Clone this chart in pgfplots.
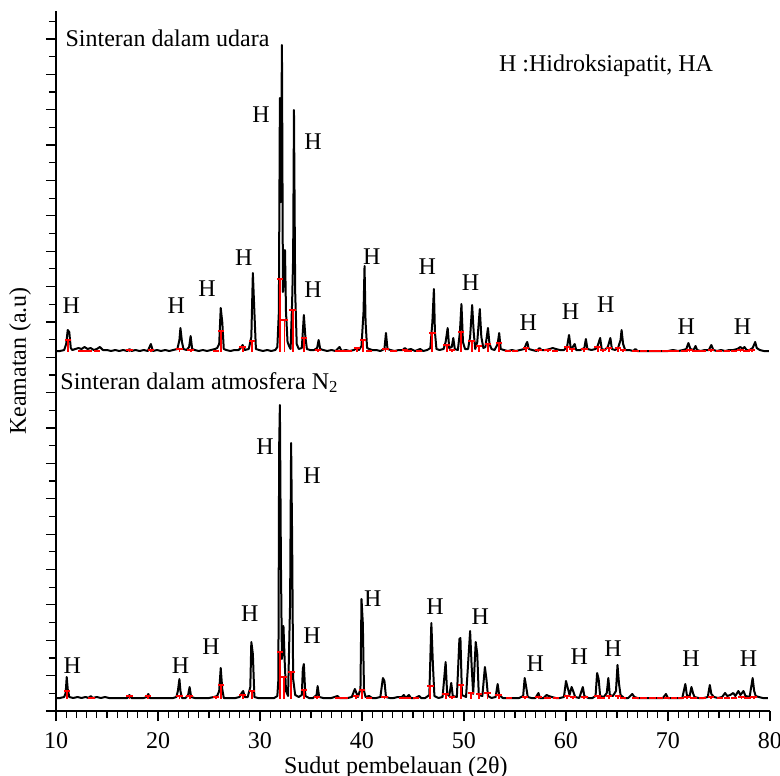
\documentclass[border=0pt]{standalone}
\usepackage{fontspec}
\setmainfont{Liberation Serif}
\usepackage{pgfplots}
\usepackage{pgfplotstable}
\pgfplotsset{compat=1.18}

% top pattern (sintered in air): x = 2theta, h = height above its baseline
\pgfplotstableread{
x h
10.0 1
10.4 1
10.8 2
11.0 8
11.15 22
11.3 20
11.45 4
11.6 2
11.9 3
12.2 4
12.5 3
12.8 5
13.1 3
13.4 4
13.7 2
14.0 3
14.3 5
14.6 2
15.0 2
15.4 1
15.8 2
16.2 1
16.6 2
17.0 1
17.2 3
17.4 1
17.8 2
18.2 1
18.6 2
19.0 1
19.3 8
19.5 1
19.9 2
20.3 1
20.7 2
21.1 1
21.5 2
21.9 3
22.1 12
22.2 24
22.35 10
22.5 3
22.8 2
23.05 5
23.2 16
23.35 3
23.6 2
24.0 1
24.4 2
24.8 1
25.2 2
25.6 3
25.8 4
26.0 8
26.15 44
26.3 30
26.45 3
26.7 2
27.1 1
27.5 2
27.9 2
28.1 4
28.3 7
28.5 2
28.9 3
29.15 15
29.3 79
29.45 40
29.6 3
29.9 2
30.3 1
30.7 2
31.1 1
31.5 2
31.7 5
31.85 40
31.95 254
32.05 150
32.15 307
32.25 60
32.35 75
32.45 102
32.55 40
32.7 10
32.85 6
33.0 3
33.15 50
33.25 95
33.33 242
33.45 60
33.6 8
33.8 3
34.1 4
34.3 37
34.45 15
34.6 3
34.9 2
35.3 2
35.6 4
35.75 12
35.9 3
36.2 2
36.6 1
37.0 2
37.4 1
37.8 5
38.0 1
38.4 2
38.8 1
39.2 2
39.5 4
39.7 2
39.95 6
40.15 40
40.25 86
40.35 30
40.5 4
40.7 3
41.0 2
41.4 2
41.8 1
42.2 3
42.35 19
42.5 3
42.8 2
43.2 1
43.6 2
44.0 2
44.2 4
44.4 2
44.8 3
45.2 1
45.7 3
46.0 1
46.4 2
46.7 4
46.9 30
47.05 63
47.15 20
47.3 3
47.6 2
48.0 3
48.2 10
48.4 24
48.55 4
48.8 5
48.95 14
49.1 3
49.4 2
49.6 20
49.75 48
49.9 10
50.1 3
50.4 3
50.6 15
50.8 47
50.95 20
51.1 3
51.3 10
51.55 43
51.7 15
51.9 4
52.1 5
52.35 24
52.5 8
52.7 3
53.0 2
53.3 8
53.45 19
53.6 3
53.9 2
54.3 1
54.7 2
55.1 1
55.5 2
55.9 3
56.1 8
56.2 10
56.35 3
56.7 2
57.1 1
57.4 4
57.6 2
58.0 2
58.4 3
58.7 4
59.0 3
59.4 2
59.8 2
60.1 5
60.3 17
60.45 5
60.6 4
60.85 8
61.0 2
61.4 2
61.8 4
61.95 13
62.1 3
62.5 2
62.9 3
63.1 6
63.35 14
63.5 3
63.8 2
64.1 5
64.35 14
64.5 3
64.8 2
65.1 4
65.35 12
65.45 22
65.6 8
65.8 2
66.2 2
66.6 1
66.8 3
67.0 1
67.5 1
68.0 1
68.5 1
69.0 1
69.5 1
70.0 1
70.5 2
71.0 1
71.5 2
71.8 3
72.0 9
72.2 3
72.5 2
72.7 6
72.85 2
73.2 1
73.6 2
74.0 2
74.25 7
74.45 2
74.8 1
75.2 2
75.6 1
76.0 2
76.4 2
76.8 3
77.1 5
77.3 3
77.5 5
77.7 2
78.0 2
78.3 4
78.55 10
78.7 4
79.0 2
79.4 1
79.9 1
}\topTrace

% bottom pattern (sintered in N2)
\pgfplotstableread{
x h
10.0 1
10.4 1
10.8 2
10.95 6
11.05 22
11.15 10
11.3 2
11.7 1
12.1 2
12.5 1
12.9 2
13.2 1
13.4 3
13.6 1
14.0 2
14.4 1
14.8 2
15.2 1
15.6 1
16.0 1
16.5 1
17.0 1
17.2 4
17.4 1
17.8 1
18.2 1
18.6 1
18.9 2
19.05 5
19.2 1
19.6 1
20.0 1
20.5 1
21.0 1
21.5 1
21.8 2
21.95 8
22.1 20
22.2 8
22.35 1
22.7 1
22.95 4
23.1 12
23.25 2
23.6 1
24.0 1
24.5 1
25.0 1
25.5 2
25.8 3
26.0 8
26.15 31
26.3 10
26.45 1
26.8 1
27.2 1
27.6 1
28.0 2
28.2 6
28.35 8
28.5 2
28.8 2
29.05 12
29.15 57
29.3 45
29.45 2
29.8 1
30.2 1
30.6 1
31.0 1
31.4 1
31.7 3
31.8 19
31.88 253
31.95 294
32.05 138
32.15 40
32.3 73
32.42 38
32.55 8
32.75 3
32.95 95
33.05 256
33.15 161
33.25 20
33.45 4
33.8 2
34.1 4
34.2 30
34.3 35
34.45 3
34.8 1
35.2 1
35.55 4
35.65 13
35.8 2
36.2 1
36.6 1
37.0 1
37.6 3
37.8 1
38.2 1
38.6 1
39.0 2
39.3 10
39.45 6
39.6 2
39.85 10
39.95 100
40.08 76
40.2 8
40.35 2
40.7 3
41.0 1
41.4 1
41.8 2
42.05 21
42.2 18
42.35 2
42.7 1
43.1 1
43.5 2
43.9 2
44.1 4
44.3 1
44.6 4
44.8 1
45.2 1
45.6 3
45.8 1
46.2 1
46.6 4
46.8 76
46.95 35
47.1 3
47.5 1
47.9 2
48.2 37
48.35 5
48.55 3
48.75 16
48.9 3
49.3 2
49.55 60
49.65 61
49.8 4
50.2 2
50.6 68
50.75 33
50.9 5
51.15 57
51.3 45
51.45 4
51.8 3
52.05 32
52.2 20
52.35 3
52.7 1
53.1 2
53.3 15
53.45 4
53.8 1
54.2 1
54.6 1
55.0 1
55.4 1
55.8 3
55.95 21
56.1 12
56.25 2
56.6 1
57.0 1
57.3 6
57.45 1
57.8 1
58.1 4
58.3 3
58.6 2
59.0 1
59.4 1
59.8 2
60.0 18
60.15 12
60.35 4
60.55 12
60.7 8
60.9 2
61.3 1
61.65 12
61.8 3
62.2 1
62.6 1
62.9 3
63.05 26
63.2 20
63.35 3
63.7 2
64.0 6
64.15 21
64.3 4
64.6 3
64.9 8
65.05 34
65.2 15
65.35 4
65.7 1
66.1 1
66.5 5
66.7 2
67.0 1
67.5 1
68.0 1
68.5 1
69.0 1
69.5 1
69.8 5
70.0 1
70.5 1
71.0 1
71.4 1
71.7 15
71.85 4
72.1 2
72.3 12
72.45 6
72.6 2
73.0 1
73.5 1
73.9 2
74.1 14
74.25 5
74.5 2
74.9 1
75.3 2
75.6 6
75.8 3
76.1 4
76.4 6
76.6 3
76.9 8
77.1 4
77.4 8
77.6 3
78.0 2
78.3 21
78.45 8
78.6 3
78.9 2
79.3 1
79.8 1
}\botTrace

% reference stick pattern (red), heights above each baseline
\pgfplotstableread{
x h
11.15 12
12.5 1
13.2 1
14.0 1
17.2 2
19.3 2
22.1 3
23.2 2
25.7 1
26.15 21
28.3 5
29.2 11
31.95 73
32.4 32
33.2 42
34.3 14
35.7 2
37.7 1
38.3 1
38.7 1
39.5 4
40.1 12
40.7 1
42.3 3
43.1 1
44.2 2
44.6 1
45.6 1
46.9 19
48.3 7
48.8 2
49.7 20
50.75 11
51.5 6
52.35 8
53.45 9
54.3 1
55.0 1
56.1 4
57.3 2
58.2 2
58.9 1
60.1 5
60.6 3
61.8 3
63.1 5
63.6 2
64.2 4
65.1 4
65.6 2
66.8 1
67.6 1
68.5 1
69.0 1
69.7 1
70.2 1
70.8 1
71.6 1
72.1 2
72.7 1
73.4 1
74.2 2
75.0 1
75.8 1
76.5 1
77.1 2
77.7 1
78.2 2
}\topSticks

\pgfplotstableread{
x h
11.05 8
13.5 1
17.2 3
19.0 3
22.1 3
23.1 3
25.7 2
26.2 14
28.3 4
29.2 8
31.95 47
32.35 22
33.07 27
34.3 9
35.6 2
37.7 1
38.3 1
39.4 3
40.0 9
40.7 1
42.2 2
43.9 1
44.5 1
45.3 1
46.7 13
48.2 5
48.8 2
49.7 14
50.7 6
51.5 5
52.3 6
53.4 4
54.4 1
56.0 2
57.3 2
58.2 1
59.0 1
60.1 3
60.7 2
61.8 2
63.1 3
63.5 1
64.2 3
65.1 3
65.6 1
66.8 1
67.6 1
68.5 1
69.2 1
69.9 1
70.6 1
71.3 1
71.9 2
72.5 1
73.4 1
74.2 2
75.1 1
75.8 1
76.5 1
77.2 2
77.8 1
78.4 2
}\botSticks

\newcommand{\hf}{\fontsize{12bp}{14bp}\selectfont}
\newcommand{\tf}{\fontsize{12bp}{14bp}\selectfont}
\newcommand{\lf}{\fontsize{12bp}{14bp}\selectfont}

\begin{document}
\begin{tikzpicture}
\useasboundingbox (0bp,0bp) rectangle (390bp,388bp);
\begin{axis}[
  at={(28bp,32.5bp)}, anchor=south west,
  scale only axis, width=357bp, height=350bp,
  xmin=10, xmax=80, ymin=0, ymax=700,
  axis lines=left,
  axis line style={-, line width=1bp},
  xtick={10,20,...,80}, minor x tick num=9,
  ytick={0,35.37,...,672.2}, minor ytick={17.685,53.055,...,690},
  yticklabels={},
  tick align=outside, major tick length=5bp, minor tick length=3.5bp,
  tick style={black, line width=0.6bp},
  xticklabel style={font=\tf, yshift=-2bp},
  /pgf/number format/assume math mode=true,
  xlabel={Sudut pembelauan (2θ)},
  xlabel style={at={(axis description cs:0.476,0)}, anchor=center, yshift=-28.5bp, font=\lf},
  ylabel={Keamatan (a.u)},
  ylabel style={at={(axis description cs:-0.0504,0.5)}, anchor=center, font=\lf},
  clip=false,
]
% black diffraction traces
\addplot[black, line width=1bp, line join=round] table[x=x, y expr=\thisrow{h}+359] {\topTrace};
\addplot[black, line width=1bp, line join=round] table[x=x, y expr=\thisrow{h}+12] {\botTrace};
% red reference sticks
\addplot[red, only marks, mark=-, mark size=1.6bp, mark options={line width=0.9bp},
  error bars/.cd, y dir=minus, y explicit, error mark=none,
  error bar style={red, line width=0.9bp}]
  table[x=x, y expr=\thisrow{h}+359, y error expr=\thisrow{h}] {\topSticks};
\addplot[red, only marks, mark=-, mark size=1.6bp, mark options={line width=0.9bp},
  error bars/.cd, y dir=minus, y explicit, error mark=none,
  error bar style={red, line width=0.9bp}]
  table[x=x, y expr=\thisrow{h}+12, y error expr=\thisrow{h}] {\botSticks};

% titles
\node[anchor=base west, font=\lf, inner sep=0] at (axis cs:10.9,665) {Sinteran dalam udara};
\node[anchor=base west, font=\lf, inner sep=0] at (axis cs:53.4,640) {H :Hidroksiapatit, HA};
\node[anchor=base west, font=\lf, inner sep=0] at (axis cs:10.4,322) {Sinteran dalam atmosfera N\textsubscript{2}};

% peak labels, top
\node[font=\hf, inner sep=0] at (axis cs:11.5,405) {H};
\node[font=\hf, inner sep=0] at (axis cs:21.8,405) {H};
\node[font=\hf, inner sep=0] at (axis cs:24.8,422) {H};
\node[font=\hf, inner sep=0] at (axis cs:28.4,453) {H};
\node[font=\hf, inner sep=0] at (axis cs:30.1,596) {H};
\node[font=\hf, inner sep=0] at (axis cs:35.2,569) {H};
\node[font=\hf, inner sep=0] at (axis cs:35.2,421) {H};
\node[font=\hf, inner sep=0] at (axis cs:40.95,454) {H};
\node[font=\hf, inner sep=0] at (axis cs:46.4,444) {H};
\node[font=\hf, inner sep=0] at (axis cs:50.65,428) {H};
\node[font=\hf, inner sep=0] at (axis cs:56.3,388) {H};
\node[font=\hf, inner sep=0] at (axis cs:60.45,399) {H};
\node[font=\hf, inner sep=0] at (axis cs:63.9,406) {H};
\node[font=\hf, inner sep=0] at (axis cs:71.8,384) {H};
\node[font=\hf, inner sep=0] at (axis cs:77.3,384) {H};
% peak labels, bottom
\node[font=\hf, inner sep=0] at (axis cs:11.6,45) {H};
\node[font=\hf, inner sep=0] at (axis cs:22.2,45) {H};
\node[font=\hf, inner sep=0] at (axis cs:25.2,64) {H};
\node[font=\hf, inner sep=0] at (axis cs:29.0,97) {H};
\node[font=\hf, inner sep=0] at (axis cs:30.5,264) {H};
\node[font=\hf, inner sep=0] at (axis cs:35.1,235) {H};
\node[font=\hf, inner sep=0] at (axis cs:35.1,75) {H};
\node[font=\hf, inner sep=0] at (axis cs:41.05,112) {H};
\node[font=\hf, inner sep=0] at (axis cs:47.15,104) {H};
\node[font=\hf, inner sep=0] at (axis cs:51.6,94) {H};
\node[font=\hf, inner sep=0] at (axis cs:57.0,47) {H};
\node[font=\hf, inner sep=0] at (axis cs:61.3,54) {H};
\node[font=\hf, inner sep=0] at (axis cs:64.6,62) {H};
\node[font=\hf, inner sep=0] at (axis cs:72.25,52) {H};
\node[font=\hf, inner sep=0] at (axis cs:77.9,52) {H};
\end{axis}
\end{tikzpicture}
\end{document}
